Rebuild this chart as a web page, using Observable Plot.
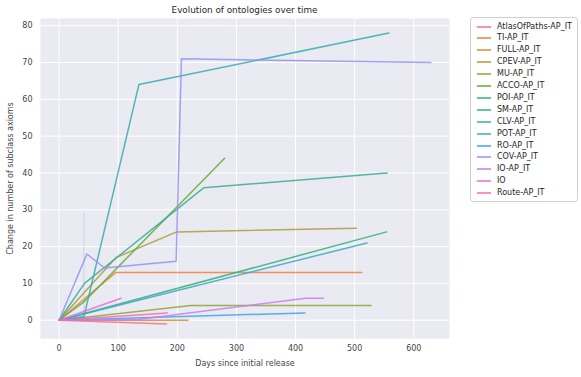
<!DOCTYPE html>
<html>
<head>
<meta charset="utf-8">
<script src="https://cdn.jsdelivr.net/npm/d3@7"></script>
<script src="https://cdn.jsdelivr.net/npm/@observablehq/plot@0.6"></script>
<style>
  body { margin: 0; background: #ffffff; }
  #wrap { position: relative; width: 581px; height: 377px; font-family: "DejaVu Sans", sans-serif; color: #262626; }
  #title { position: absolute; left: 40px; width: 409px; top: 4px; text-align: center; font-size: 8.8px; line-height: 12px; }
  #legend { position: absolute; left: 470px; top: 17px; width: 108px; height: 185px; border: 1px solid #d0d0d0; border-radius: 3px; background: #ffffff; box-sizing: border-box; }
  .item { position: absolute; left: 0; height: 12px; font-size: 8px; line-height: 12px; white-space: nowrap; }
  .sw { position: absolute; left: 6px; top: 5px; width: 14px; height: 2px; }
  .lb { position: absolute; left: 26px; top: 0; }
</style>
</head>
<body>
<div id="wrap">
  <div id="chart"></div>
  <div id="title">Evolution of ontologies over time</div>
  <div id="legend"></div>
</div>
<script>
// ---- data ----
const ontologies = ["AtlasOfPaths-AP_IT", "TI-AP_IT", "FULL-AP_IT", "CPEV-AP_IT", "MU-AP_IT", "ACCO-AP_IT", "POI-AP_IT", "SM-AP_IT", "CLV-AP_IT", "POT-AP_IT", "RO-AP_IT", "COV-AP_IT", "IO-AP_IT", "IO", "Route-AP_IT"];
const palette = ["#f77189", "#ec823f", "#cc9132", "#ae9d31", "#8fa631", "#5fae31", "#33b07a", "#35ae96", "#36acae", "#38a9c5", "#3ba3ec", "#9591f4", "#cc7af4", "#e86bda", "#f669b4"];
const seriesDays = [
  [0, 182],
  [0, 96, 512],
  [0, 218],
  [0, 96, 199, 503],
  [0, 223, 528],
  [0, 42, 280],
  [0, 554],
  [0, 43, 245, 555],
  [0, 42, 135, 558],
  [0, 521],
  [0, 416],
  [0, 47, 77, 198, 207, 629],
  [0, 133, 417, 447],
  [0, 105],
  [0, 183]
];
const seriesChange = [
  [0, -1],
  [0, 13, 13],
  [0, 0],
  [0, 17, 24, 25],
  [0, 4, 4],
  [0, 5, 44],
  [0, 24],
  [0, 10, 36, 40],
  [0, 1, 64, 78],
  [0, 21],
  [0, 2],
  [0, 18, 14.2, 16, 71, 70],
  [0, 0.2, 6, 6],
  [0, 6],
  [0, 2]
];
// confidence band (single x with spread values) of CLV-AP_IT
const bandOntology = ["CLV-AP_IT"];
const bandDay = [42];
const bandLow = [1];
const bandHigh = [29];
const xTicks = [0, 100, 200, 300, 400, 500, 600];
const yTicks = [0, 10, 20, 30, 40, 50, 60, 70, 80];

// ---- build table ----
const rows = [];
ontologies.forEach((name, i) => {
  seriesDays[i].forEach((d, j) => rows.push({ontology: name, day: d, change: seriesChange[i][j]}));
});
const band = bandDay.map((d, i) => ({ontology: bandOntology[i], day: d, low: bandLow[i], high: bandHigh[i]}));

const chart = Plot.plot({
  width: 581,
  height: 377,
  marginLeft: 40,
  marginRight: 132,
  marginTop: 18,
  marginBottom: 39,
  style: {fontFamily: "DejaVu Sans, sans-serif", fontSize: "8px", color: "#262626", background: "transparent", overflow: "visible"},
  x: {domain: [-31.45, 660.45]},
  y: {domain: [-4.95, 81.95]},
  color: {domain: ontologies, range: palette},
  marks: [
    Plot.frame({fill: "#eaeaf2", stroke: null}),
    Plot.gridX({ticks: xTicks, stroke: "#ffffff", strokeOpacity: 1, strokeWidth: 1}),
    Plot.gridY({ticks: yTicks, stroke: "#ffffff", strokeOpacity: 1, strokeWidth: 1}),
    Plot.axisX({ticks: xTicks, tickSize: 0, tickPadding: 7, fill: "#444444", label: "Days since initial release", labelAnchor: "center", labelArrow: "none", labelOffset: 27}),
    Plot.axisY({ticks: yTicks, tickSize: 0, tickPadding: 8, fill: "#444444", label: "Change in number of subclass axioms", labelAnchor: "center", labelArrow: "none", labelOffset: 33}),
    Plot.ruleX(band, {x: "day", y1: "low", y2: "high", stroke: "ontology", strokeOpacity: 0.25, strokeWidth: 1}),
    Plot.line(rows, {x: "day", y: "change", z: "ontology", stroke: "ontology", strokeWidth: 1.5, strokeOpacity: 0.85})
  ]
});
document.getElementById("chart").appendChild(chart);

// ---- legend ----
const legend = document.getElementById("legend");
ontologies.forEach((name, i) => {
  const item = document.createElement("div");
  item.className = "item";
  item.style.top = Math.round(2.5 + i * 11.9) + "px";
  const sw = document.createElement("div");
  sw.className = "sw";
  sw.style.background = palette[i];
  sw.style.opacity = 0.75;
  const lb = document.createElement("span");
  lb.className = "lb";
  lb.textContent = name;
  item.appendChild(sw);
  item.appendChild(lb);
  legend.appendChild(item);
});
</script>
</body>
</html>
